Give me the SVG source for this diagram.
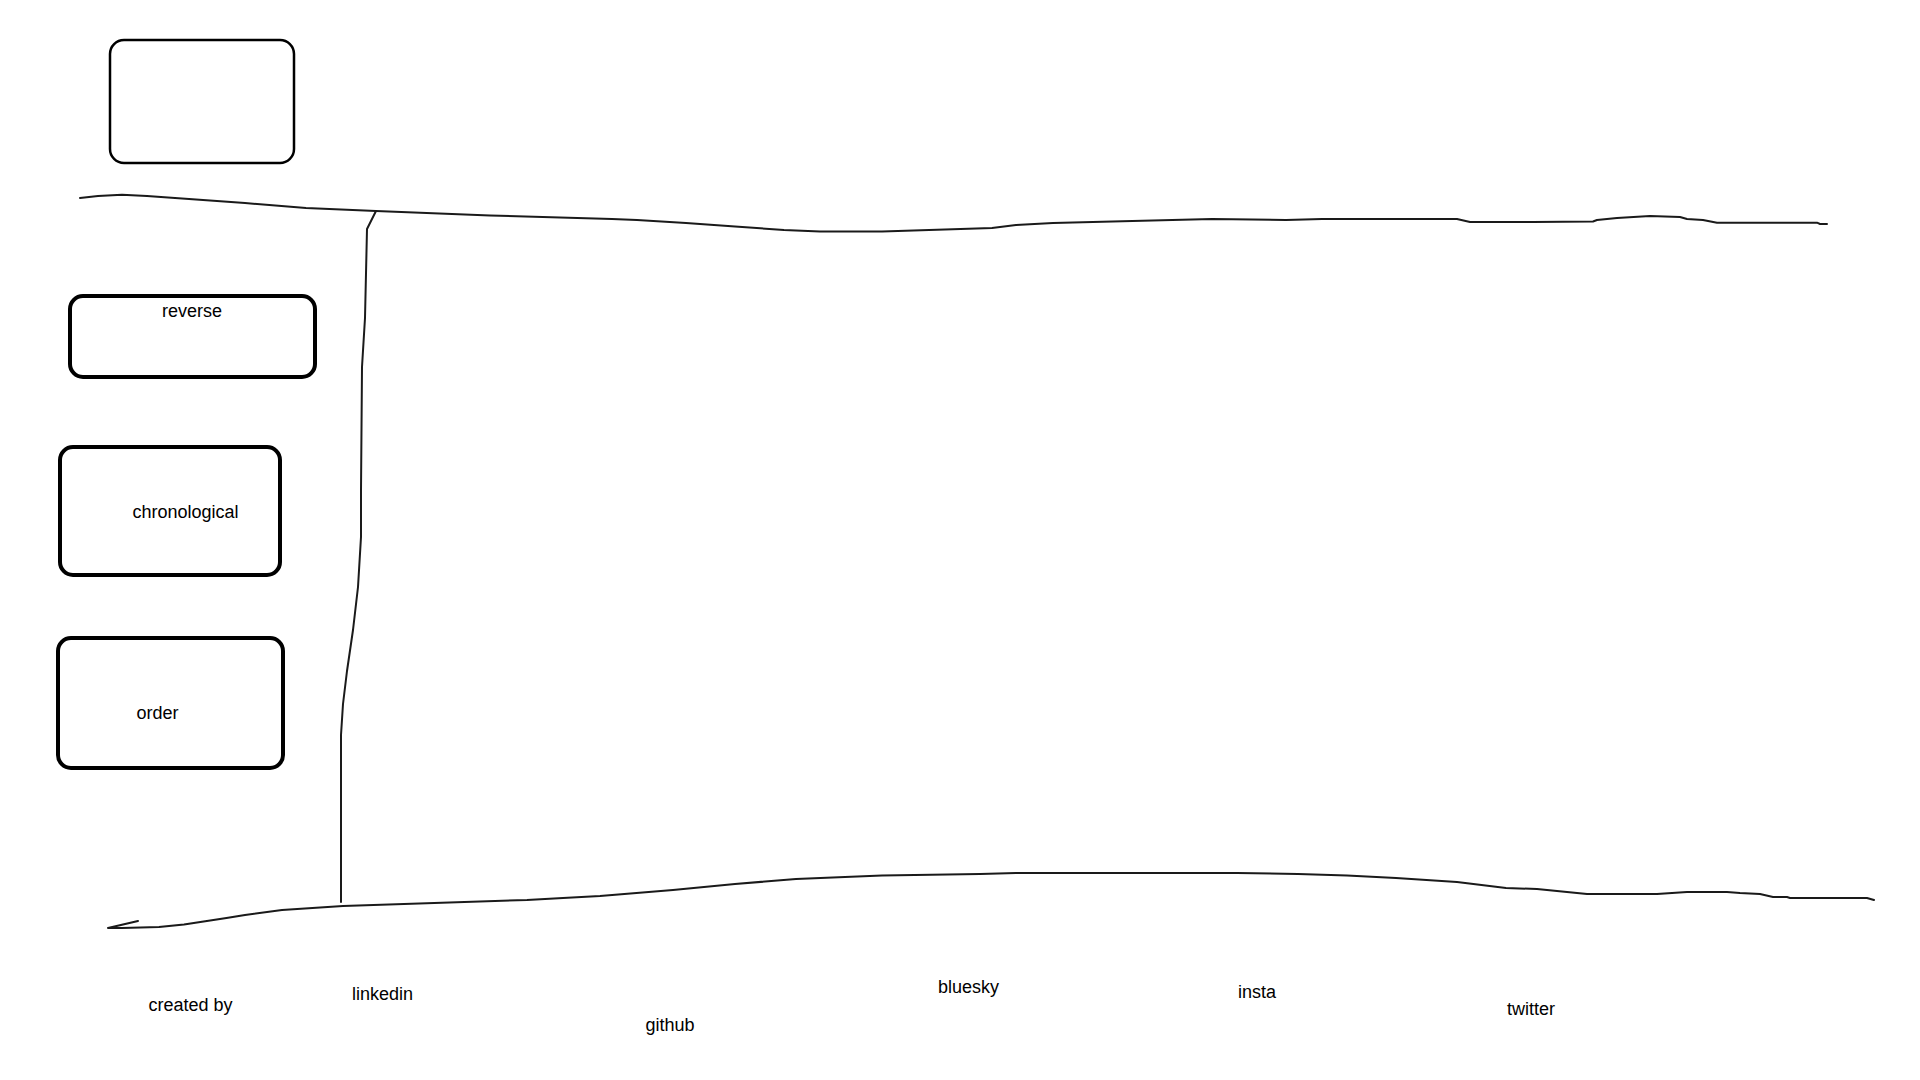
<svg xmlns="http://www.w3.org/2000/svg" width="1920" height="1080" viewBox="0 0 1920 1080">
<style>
.box{fill:none;stroke:#000;}
.thin{stroke-width:2.5;}
.thick{stroke-width:4;}
.ln{fill:none;stroke:#1a1a1a;stroke-width:2;stroke-linejoin:round;stroke-linecap:round;}
.t{font-family:"Liberation Sans",Arial,sans-serif;font-size:18px;fill:#000;text-anchor:middle;}
</style>
<rect width="1920" height="1080" fill="#fff"/>
<g id="node-top"><rect class="box thin" x="110" y="40" width="184" height="123" rx="14"/></g>
<g id="node-reverse"><rect class="box thick" x="70" y="296" width="245" height="81" rx="13"/><text class="t" x="192" y="317">reverse</text></g>
<g id="node-chronological"><rect class="box thick" x="60" y="447" width="220" height="128" rx="13"/><text class="t" x="185.5" y="518">chronological</text></g>
<g id="node-order"><rect class="box thick" x="58" y="638" width="225" height="130" rx="13"/><text class="t" x="157.5" y="719">order</text></g>
<g id="labels">
<text class="t" x="190.5" y="1011">created by</text>
<text class="t" x="382.5" y="1000">linkedin</text>
<text class="t" x="670" y="1031">github</text>
<text class="t" x="968.5" y="993">bluesky</text>
<text class="t" x="1257" y="998">insta</text>
<text class="t" x="1531" y="1015">twitter</text>
</g>
<g id="connectors">
<polyline class="ln" points="80,198 98,196 122,194.7 147,196 245,203 306,208 376,211 490,215.5 612,219 637,220 686,223 735,226.5 784,230 820,231.4 882,231.4 992,228 1016,225 1053,223 1212,219 1286,220 1322,219 1457,219 1470,222 1506,222 1533,222 1593,221.5 1597,220 1617,218 1650,216 1680,217 1687,219 1703,220 1717,222.7 1817,222.7 1820,224 1827,224"/>
<polyline class="ln" points="376,211 367,229 365,318 362,367 361,490 361,537 358,587 353,630 347,671 343,704 341,735 341,753 341,902"/>
<polyline class="ln" points="138,921 108,928 122,928 159,927 184,924.5 226.5,918 245,915 282,910 343,906 404,904 527,900 563,898 600,896 673,890 735,884 796,879 845,877 882,875.5 980,874 1016,873 1237,873 1298,874 1347,875.5 1396,878 1457,882 1506,888 1537,889 1587,894 1657,894 1687,892 1727,892 1740,893 1760,894 1773,897 1787,897 1790,898 1867,898 1874,900"/>
</g>
</svg>
